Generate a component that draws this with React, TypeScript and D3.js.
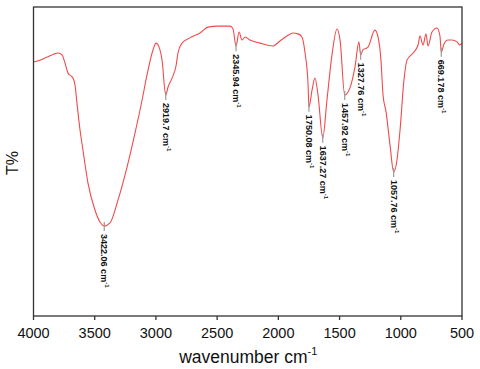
import React from "react";
import * as d3 from "d3";

// FT-IR spectrum
const wavenumbers = [
  4000, 3947, 3890, 3849, 3800, 3767, 3743, 3718, 3694, 3677, 3661, 3645, 3620, 3596, 3555,
  3498, 3457, 3422, 3375, 3310, 3236, 3171, 3113, 3073, 3024, 2999, 2975, 2950, 2919.7, 2901,
  2868, 2836, 2820, 2787, 2722, 2640, 2575, 2493, 2395, 2370, 2346, 2321, 2297, 2272, 2232,
  2150, 2044, 1987, 1930, 1880, 1840, 1807, 1782, 1758, 1750, 1725, 1701, 1676, 1637, 1603,
  1562, 1521, 1496, 1458, 1431, 1407, 1374, 1342, 1328, 1309, 1268, 1211, 1186, 1162, 1145,
  1120, 1088, 1058, 1031, 1006, 974, 949, 900, 859, 843, 818, 794, 778, 745, 704,
  680, 669, 647, 615, 582, 541, 517, 500
];
const transmittance = [
  82.2, 82.8, 83.8, 84.5, 85.1, 84.5, 81.9, 78.6, 77.7, 77.0, 74.8, 68.9, 60.2, 53.7, 43.0,
  34.3, 30.4, 29.1, 30.1, 37.5, 48.2, 59.2, 69.9, 78.0, 86.1, 88.3, 87.1, 82.8, 71.5, 74.1,
  77.0, 80.9, 85.1, 88.3, 90.0, 91.6, 93.5, 93.8, 93.8, 92.9, 87.3, 91.9, 89.3, 90.3, 89.3,
  88.3, 87.4, 89.0, 90.6, 91.6, 91.3, 90.3, 85.1, 75.4, 67.6, 73.1, 77.0, 71.5, 57.6, 69.9,
  84.5, 92.9, 89.3, 71.5, 72.5, 74.8, 80.6, 88.7, 84.5, 86.1, 87.0, 92.5, 90.3, 82.8, 71.5,
  66.0, 55.3, 46.6, 50.5, 60.2, 76.4, 82.8, 85.1, 87.7, 90.6, 87.7, 91.3, 87.4, 91.9, 93.2,
  90.6, 85.4, 88.0, 89.3, 89.3, 88.7, 87.7, 88.3
];

const peakPositions = [3422.06, 2919.7, 2345.94, 1750.08, 1637.27, 1457.92, 1327.76, 1057.76, 669.178];
const peakLabels = ["3422.06", "2919.7", "2345.94", "1750.08", "1637.27", "1457.92", "1327.76", "1057.76", "669.178"];
const xTicks = [4000, 3500, 3000, 2500, 2000, 1500, 1000, 500];

const width = 480;
const height = 369;
const left = 33.5;
const right = 462;
const top = 7;
const bottom = 316;
const font = "'Liberation Sans', Arial, sans-serif";

export default function App() {
  const x = d3.scaleLinear().domain([4000, 500]).range([left, right]);
  const y = d3.scaleLinear().domain([0, 100]).range([bottom, top]);

  const pts = wavenumbers.map((w, i) => [w, transmittance[i]] as [number, number]);
  const line = d3
    .line<[number, number]>()
    .x(d => x(d[0]))
    .y(d => y(d[1]))
    .curve(d3.curveMonotoneX);

  // transmittance at a peak, interpolated from the spectrum
  const interpAt = (w: number) => {
    for (let i = 0; i < wavenumbers.length - 1; i++) {
      const a = wavenumbers[i];
      const b = wavenumbers[i + 1];
      if (w <= a && w >= b) {
        const t = (a - w) / (a - b);
        return transmittance[i] + t * (transmittance[i + 1] - transmittance[i]);
      }
    }
    return transmittance[transmittance.length - 1];
  };

  return (
    <svg
      width={width}
      height={height}
      style={{ position: "absolute", left: 0, top: 0, background: "#fff" }}
      fontFamily={font}
    >
      <rect x={0} y={0} width={width} height={height} fill="#fff" />
      <path d={line(pts) || ""} fill="none" stroke="#f24a4a" strokeWidth={1.1} />

      {peakPositions.map((p, i) => {
        const px = x(p);
        const py = y(interpAt(p));
        return (
          <g key={p}>
            <line x1={px} x2={px} y1={py - 4} y2={py + 5} stroke="#999" strokeWidth={1.2} />
            <text
              transform={`translate(${px},${py + 8}) rotate(90)`}
              fontSize={9}
              fontWeight="bold"
              fill="#111"
              dy="0.35em"
            >
              {peakLabels[i]} cm
              <tspan fontSize={6} dy="-0.7em">-1</tspan>
            </text>
          </g>
        );
      })}

      <rect
        x={left}
        y={top}
        width={right - left}
        height={bottom - top}
        fill="none"
        stroke="#333"
        strokeWidth={1.3}
      />

      {xTicks.map(t => (
        <g key={t} transform={`translate(${x(t)},${bottom})`}>
          <line y1={0} y2={4} stroke="#333" strokeWidth={1.3} />
          <text y={22} textAnchor="middle" fontSize={14.5} fill="#111">
            {t}
          </text>
        </g>
      ))}

      <text x={(left + right) / 2 + 0.5} y={363} textAnchor="middle" fontSize={17.5} fill="#111">
        wavenumber cm
        <tspan fontSize={11} dy="-0.75em">-1</tspan>
      </text>

      <text
        transform={`translate(18,163) rotate(-90)`}
        textAnchor="middle"
        fontSize={16}
        fill="#111"
      >
        T%
      </text>
    </svg>
  );
}
